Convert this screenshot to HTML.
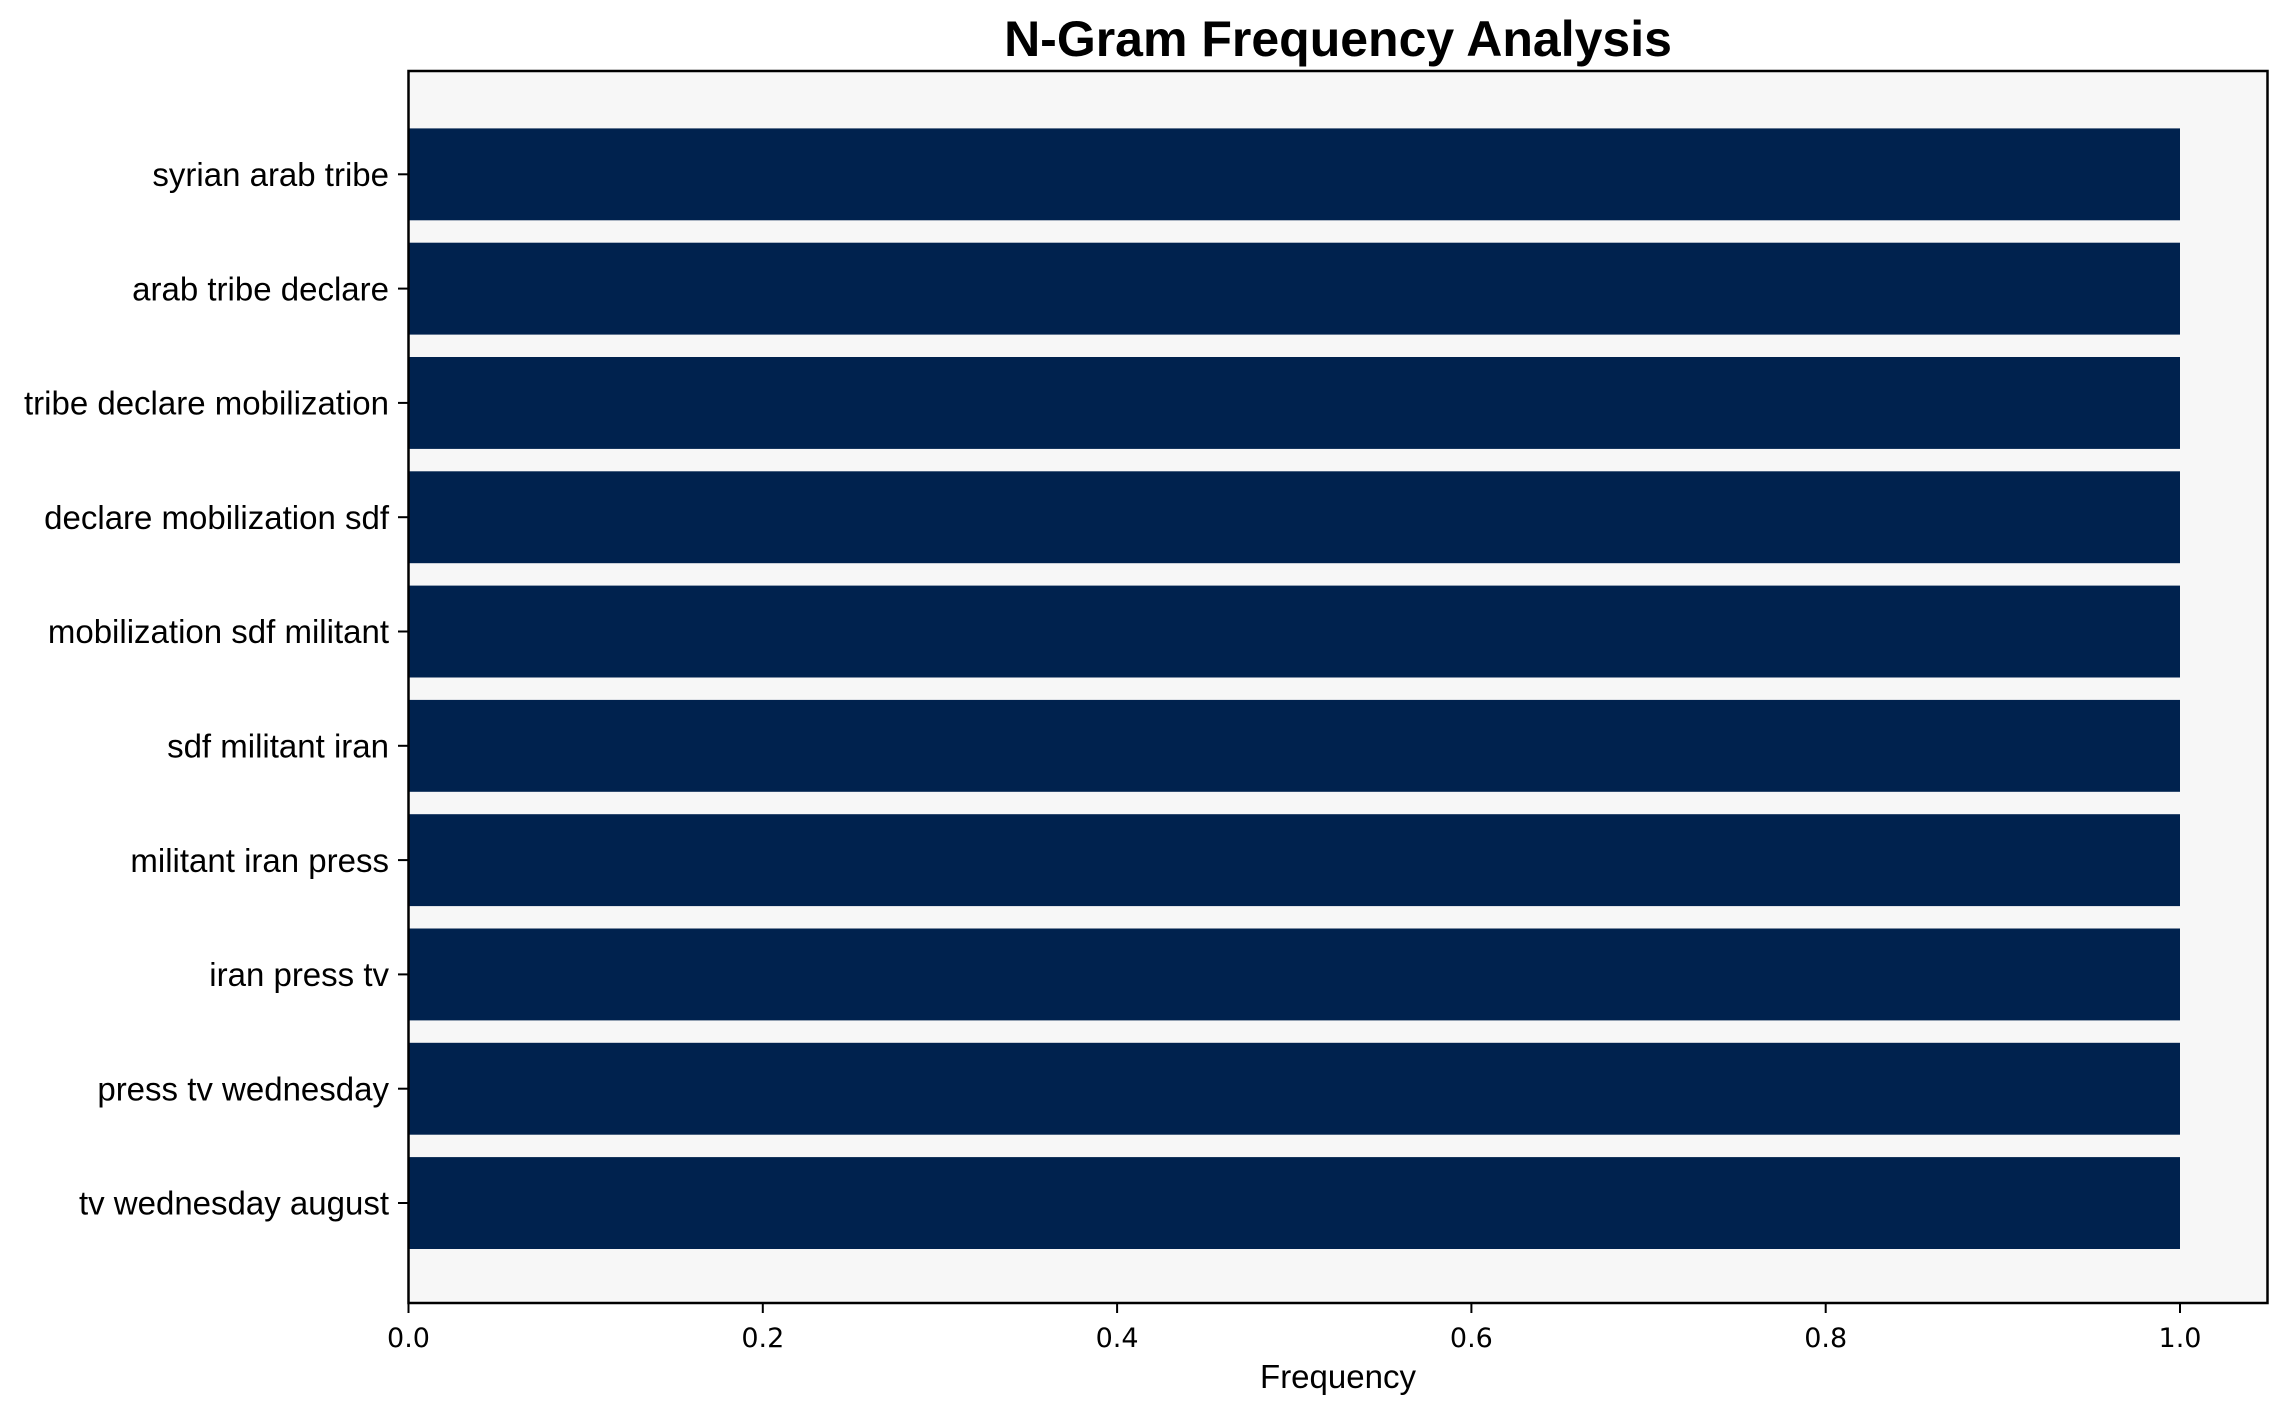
<!DOCTYPE html>
<html><head><meta charset="utf-8"><style>
html,body{margin:0;padding:0;background:#fff;}
svg{display:block;}
</style></head><body>
<svg width="2288" height="1414" viewBox="0 0 2288 1414" xmlns="http://www.w3.org/2000/svg">
<rect x="0" y="0" width="2288" height="1414" fill="#fff"/>
<rect x="408.5" y="71" width="1859" height="1232" fill="#f7f7f7"/>
<g fill="#00224e">
<rect x="408.5" y="128.4" width="1771.5" height="91.9"/>
<rect x="408.5" y="242.7" width="1771.5" height="91.9"/>
<rect x="408.5" y="357.0" width="1771.5" height="91.9"/>
<rect x="408.5" y="471.3" width="1771.5" height="91.9"/>
<rect x="408.5" y="585.6" width="1771.5" height="91.9"/>
<rect x="408.5" y="699.9" width="1771.5" height="91.9"/>
<rect x="408.5" y="814.2" width="1771.5" height="91.9"/>
<rect x="408.5" y="928.5" width="1771.5" height="91.9"/>
<rect x="408.5" y="1042.8" width="1771.5" height="91.9"/>
<rect x="408.5" y="1157.1" width="1771.5" height="91.9"/>
</g>
<rect x="408.5" y="71" width="1859" height="1232" fill="none" stroke="#000" stroke-width="2.5"/>
<g stroke="#000" stroke-width="2">
<line x1="398" x2="408" y1="174.3" y2="174.3"/>
<line x1="398" x2="408" y1="288.6" y2="288.6"/>
<line x1="398" x2="408" y1="402.9" y2="402.9"/>
<line x1="398" x2="408" y1="517.2" y2="517.2"/>
<line x1="398" x2="408" y1="631.5" y2="631.5"/>
<line x1="398" x2="408" y1="745.8" y2="745.8"/>
<line x1="398" x2="408" y1="860.1" y2="860.1"/>
<line x1="398" x2="408" y1="974.4" y2="974.4"/>
<line x1="398" x2="408" y1="1088.7" y2="1088.7"/>
<line x1="398" x2="408" y1="1203.0" y2="1203.0"/>
<line x1="408.5" x2="408.5" y1="1303" y2="1313"/>
<line x1="762.8" x2="762.8" y1="1303" y2="1313"/>
<line x1="1117.1" x2="1117.1" y1="1303" y2="1313"/>
<line x1="1471.4" x2="1471.4" y1="1303" y2="1313"/>
<line x1="1825.7" x2="1825.7" y1="1303" y2="1313"/>
<line x1="2180" x2="2180" y1="1303" y2="1313"/>
</g>
<g font-family="Liberation Sans, Arial, sans-serif" font-size="33" text-anchor="end" fill="#000">
<text x="389" y="186">syrian arab tribe</text>
<text x="389" y="300.3">arab tribe declare</text>
<text x="389" y="414.6">tribe declare mobilization</text>
<text x="389" y="528.9">declare mobilization sdf</text>
<text x="389" y="643.2">mobilization sdf militant</text>
<text x="389" y="757.5">sdf militant iran</text>
<text x="389" y="871.8">militant iran press</text>
<text x="389" y="986.1">iran press tv</text>
<text x="389" y="1100.4">press tv wednesday</text>
<text x="389" y="1214.7">tv wednesday august</text>
</g>
<g font-family="DejaVu Sans, sans-serif" font-size="27" text-anchor="middle" fill="#000">
<text x="408.5" y="1347">0.0</text>
<text x="762.8" y="1347">0.2</text>
<text x="1117.1" y="1347">0.4</text>
<text x="1471.4" y="1347">0.6</text>
<text x="1825.7" y="1347">0.8</text>
<text x="2180" y="1347">1.0</text>
</g>
<text x="1338" y="1388" font-family="Liberation Sans, Arial, sans-serif" font-size="33" text-anchor="middle">Frequency</text>
<text x="1338" y="56" font-family="Liberation Sans, Arial, sans-serif" font-size="50" font-weight="bold" text-anchor="middle">N-Gram Frequency Analysis</text>
</svg>
</body></html>
